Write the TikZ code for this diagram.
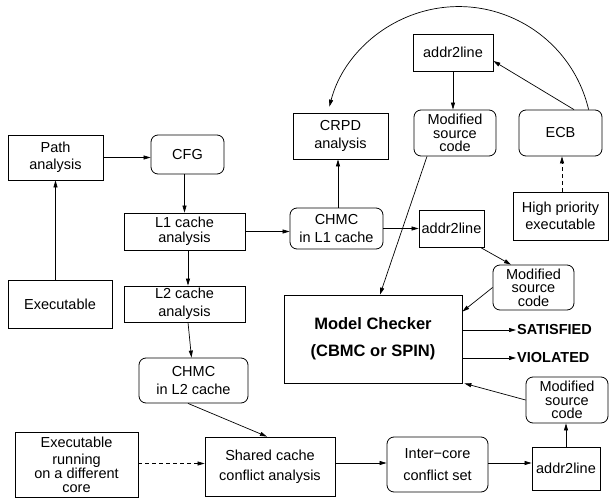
\documentclass[tikz,border=0pt]{standalone}
\usepackage{fontspec}
\setmainfont{Liberation Sans}
\usetikzlibrary{arrows.meta,calc}

\begin{document}
\begin{tikzpicture}[x=1pt,y=1pt,
  every node/.style={inner sep=0pt, align=center,
    font=\fontsize{14.5}{17.5}\selectfont},
  box/.style={draw, line width=0.8pt, minimum width=#1},
  rbox/.style={box=#1, rounded corners=7pt},
  tight/.style={font=\fontsize{14.5}{13.6}\selectfont},
  arr/.style={line width=0.7pt, -{Triangle[length=7pt,width=4pt]}},
  darr/.style={arr, dash pattern=on 4pt off 3pt},
  result/.style={font=\fontsize{14.5}{17}\selectfont\bfseries, anchor=west}]

\useasboundingbox (0,0) rectangle (611,-500);

% left column: program analysis
\node[box=95, minimum height=45] (path) at (55.5,-157.5) {Path\\analysis};
\node[rbox=73, minimum height=39] (cfg) at (187.5,-154.5) {CFG};
\node[box=121, minimum height=37] (l1) at (184.5,-231.5) {L1 cache\\[-3pt]analysis};
\node[box=104, minimum height=48] (exe) at (60,-304) {Executable};
\node[box=121, minimum height=36] (l2) at (184.5,-304) {L2 cache\\analysis};
\node[rbox=109, minimum height=45] (chmc2) at (193.5,-380.5) {CHMC\\in L2 cache};

% bottom row: inter-core analysis
\node[box=123, minimum height=65, font=\fontsize{14.5}{14}\selectfont] (other) at (76.5,-464.5)
  {Executable\\[3pt]running\\on a different\\core};
\node[box=130, minimum height=59] (shared) at (270,-466.5)
  {Shared cache\\[3pt]conflict analysis};
\node[rbox=101, minimum height=55] (inter) at (437.5,-464.5)
  {Inter{\textminus}core\\[5pt]conflict set};
\node[box=68, minimum height=43] (a2lb) at (566,-468.5) {addr2line};
\node[rbox=82, minimum height=46, tight] (msb) at (567,-400) {Modified\\source\\code};

% model checker and its verdicts
\node[box=178, minimum height=88,
  font=\fontsize{16.5}{27}\selectfont\bfseries] (mc) at (373,-339)
  {Model Checker\\(CBMC or SPIN)};
\node[result] (sat) at (517,-330) {SATISFIED};
\node[result] (vio) at (517,-358) {VIOLATED};

% middle: L1 analysis
\node[rbox=93, minimum height=41] (chmc1) at (336.5,-228.5) {CHMC\\in L1 cache};
\node[box=65, minimum height=37] (a2lm) at (451.5,-228.5) {addr2line};
\node[rbox=81, minimum height=45, tight] (msm) at (533.5,-287.5) {Modified\\source\\code};

% top: preemption analysis
\node[box=95, minimum height=46] (crpd) at (340.5,-136) {CRPD\\analysis};
\node[box=80, minimum height=37] (a2lt) at (453,-52.5) {addr2line};
\node[rbox=82, minimum height=46, tight] (mst) at (455,-133) {Modified\\source\\code};
\node[rbox=83, minimum height=46] (ecb) at (560.5,-133) {ECB};
\node[box=95, minimum height=48] (hpe) at (560.5,-216) {High priority\\executable};

% connectors
\draw[arr] (exe.north -| path.south) -- (path.south);
\draw[arr] (path.east) -- (path.east -| cfg.west);
\draw[arr] ([xshift=-3pt]cfg.south) -- ([xshift=-3pt]cfg.south |- l1.north);
\draw[arr] ([xshift=3.5pt]l1.south) -- ([xshift=3.5pt]l2.north);
\draw[arr] ([xshift=3.5pt]l2.south) -- ([xshift=-2pt]chmc2.north);
\draw[arr] ([xshift=-5.5pt]chmc2.south) -- ([xshift=-3pt]shared.north);
\draw[darr] (other.east |- shared.west) ++(0,3) coordinate (o1) -- (o1 -| shared.west);
\draw[arr] ([yshift=3.5pt]shared.east) -- ([yshift=3.5pt]shared.east -| inter.west);
\draw[arr] ([yshift=1.5pt]inter.east) -- ([yshift=1.5pt]inter.east -| a2lb.west);
\draw[arr] (a2lb.north) -- (a2lb.north |- msb.south);
\draw[arr] (msb.west) -- ([xshift=2pt]mc.south east);
\draw[arr] (msm.west) -- ([yshift=-17pt]mc.north east);
\draw[arr] ([xshift=-4pt]a2lm.south east) -- ([xshift=-22.5pt]msm.north);
\draw[arr] ([xshift=-28pt]mst.south) -- ([xshift=7pt]mc.north);
\draw[arr] (chmc1.east) -- (chmc1.east -| a2lm.west);
\draw[arr] (l1.east) -- (l1.east -| chmc1.west);
\draw[arr] ([xshift=1.5pt]chmc1.north) -- ([xshift=1.5pt]chmc1.north |- crpd.south);
\draw[arr] (a2lt.south) -- (a2lt.south |- mst.north);
\draw[arr] ([xshift=13.5pt]ecb.north) -- ([yshift=-8.5pt]a2lt.east);
\draw[darr] ([xshift=1.5pt]hpe.north) -- ([xshift=1.5pt]hpe.north |- ecb.south);
\draw[arr] ($(ecb.north west)+(70,0)$) coordinate (e1)
  arc[start angle=13.2, end angle=165.5, radius=133.5pt];
\draw[arr] (sat.west -| mc.east) -- ([xshift=-1pt]sat.west);
\draw[arr] (vio.west -| mc.east) -- ([xshift=-1pt]vio.west);
\end{tikzpicture}
\end{document}
